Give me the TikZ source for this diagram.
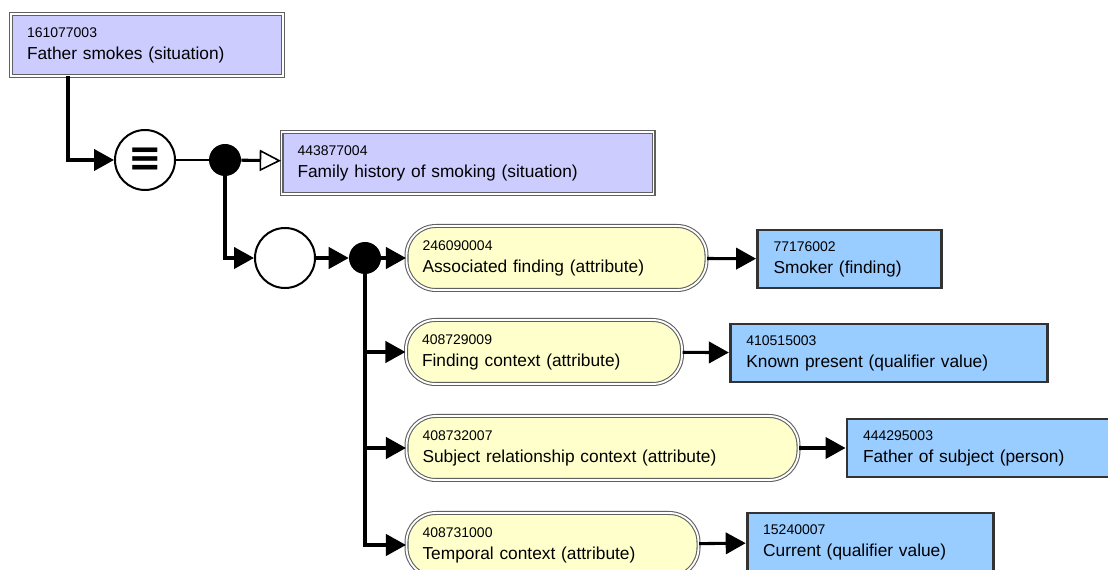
\documentclass[tikz,border=0pt]{standalone}
\usepackage{fontspec}
\setmainfont{Liberation Sans}
\newfontfamily\symfont{DejaVu Sans}
\usetikzlibrary{arrows.meta}

\definecolor{sitfill}{HTML}{CCCCFF}
\definecolor{attrfill}{HTML}{FFFFCC}
\definecolor{valfill}{HTML}{99CCFF}
\definecolor{rimgray}{HTML}{606060}
\definecolor{valrim}{HTML}{333333}

\newcommand{\sctid}[1]{{\fontsize{10.5}{16.5}\selectfont #1}}

\tikzset{
  sitbox/.style={rectangle, fill=sitfill, draw=rimgray, line width=0.8pt,
    double=white, double distance=1.4pt, minimum height=47pt,
    inner xsep=12pt, text width=#1},
  attrbox/.style={rectangle, rounded corners=22pt, fill=attrfill, draw=rimgray,
    line width=0.8pt, double=white, double distance=1.4pt, minimum height=48pt,
    inner xsep=12pt, text width=#1},
  valbox/.style={rectangle, fill=valfill, draw=valrim, line width=2.2pt,
    minimum height=43.5pt, inner xsep=12pt, text width=#1},
  opcircle/.style={circle, draw, fill=white, line width=1.5pt, minimum size=45pt,
    inner sep=0pt},
  joint/.style={circle, fill=black, minimum size=24pt, inner sep=0pt},
  link/.style={line width=2.3pt, -{Triangle[length=15pt,width=16pt]}},
  isa/.style={line width=2.3pt, -{Triangle[open,fill=white,length=16pt,width=16pt,line width=1.2pt]}},
  bare/.style={line width=1.6pt}
}

\begin{document}
\begin{tikzpicture}[x=0.75pt,y=-0.75pt,
  every node/.style={font=\fontsize{13}{16.5}\selectfont, align=left}]
\useasboundingbox (0,0) rectangle (1108,570);

% defined concept and its parent
\node[sitbox=180pt] (fsmk) at (147,45) {\sctid{161077003}\\Father smokes (situation)};
\node[opcircle, font=\symfont\bfseries\fontsize{30}{30}\selectfont] (equiv) at (145,160) {≡};
\node[joint] (dot1) at (225,160) {};
\node[sitbox=255pt] (famhx) at (467.5,163) {\sctid{443877004}\\Family history of smoking (situation)};

% role group
\node[opcircle] (grp) at (285,258) {};
\node[joint] (dot2) at (365,258) {};

\node[attrbox=201pt] (assoc) at (556.5,258) {\sctid{246090004}\\Associated finding (attribute)};
\node[attrbox=183pt] (findctx) at (544,352) {\sctid{408729009}\\Finding context (attribute)};
\node[attrbox=270pt] (subjctx) at (602.5,448) {\sctid{408732007}\\Subject relationship context (attribute)};
\node[attrbox=195pt] (tempctx) at (552.5,545) {\sctid{408731000}\\Temporal context (attribute)};

\node[valbox=114pt] (smoker) at (849.5,259) {\sctid{77176002}\\Smoker (finding)};
\node[valbox=214pt] (present) at (889,353) {\sctid{410515003}\\Known present (qualifier value)};
\node[valbox=192pt] (father) at (991,448) {\sctid{444295003}\\Father of subject (person)};
\node[valbox=161pt] (current) at (870.5,542) {\sctid{15240007}\\Current (qualifier value)};

\coordinate (fsmkfoot) at (68,76);

\draw[link] (fsmkfoot) |- (equiv);
\draw[bare] (equiv) -- (dot1);
\draw[isa] (dot1) -- (famhx);
\draw[link] (dot1) |- (grp);
\draw[link] (grp) -- (dot2);
\draw[link] (dot2) -- (assoc);
\draw[link] (dot2) |- (findctx);
\draw[link] (dot2) |- (subjctx);
\draw[link] (dot2) |- (tempctx);

\draw[link] (assoc) -- (smoker);
\draw[link] (findctx) -- (present);
\draw[link] (subjctx) -- (father);
\draw[link] (tempctx) -- (current);
\end{tikzpicture}
\end{document}
